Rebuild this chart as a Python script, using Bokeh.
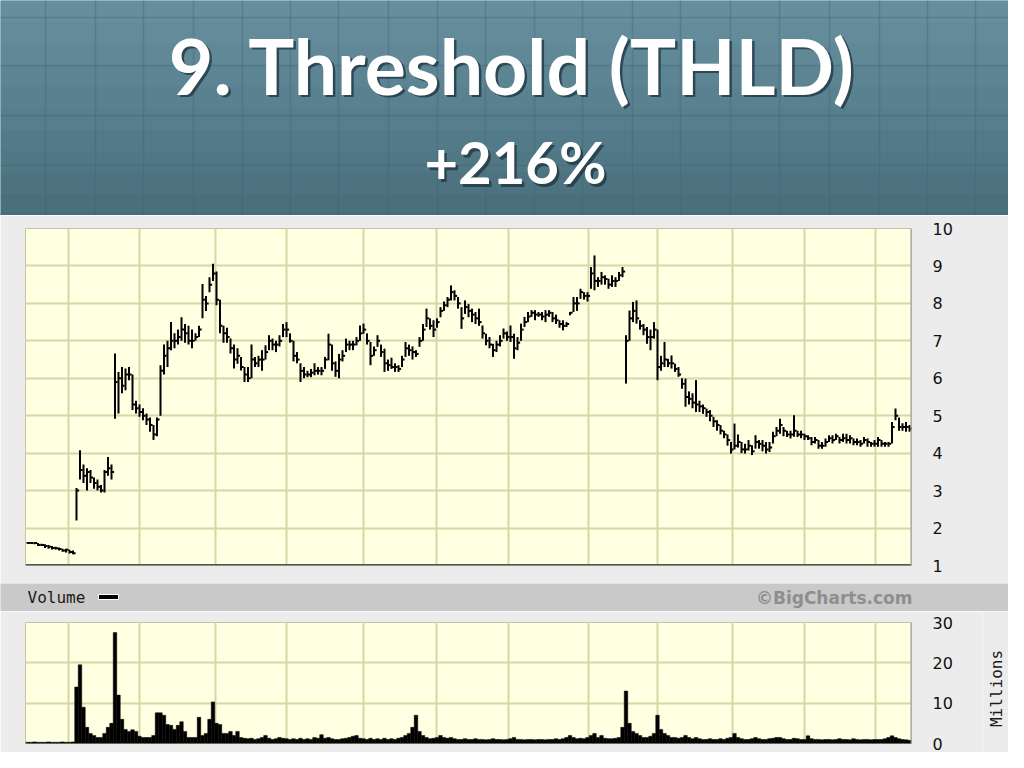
from math import pi
from bokeh.plotting import figure
from bokeh.layouts import column, row
from bokeh.models import Range1d, FixedTicker, Label, Span, ColumnDataSource
from bokeh.embed import file_html
from bokeh.resources import INLINE

# ---------------- data (one trading day per entry) ----------------
high = [
    1.63, 1.63, 1.62, 1.60, 1.58, 1.57, 1.55, 1.52, 1.50, 1.48,
    1.45, 1.45, 1.42, 1.40, 3.07, 4.08, 3.70, 3.60, 3.55, 3.35,
    3.30, 3.15, 3.55, 3.90, 3.70, 6.66, 6.17, 6.30, 6.26, 6.30,
    6.10, 5.40, 5.30, 5.20, 5.06, 4.95, 4.75, 4.95, 6.35, 6.90,
    7.00, 7.50, 7.20, 7.30, 7.63, 7.45, 7.40, 7.30, 7.20, 7.40,
    8.52, 8.20, 8.70, 9.06, 8.85, 8.10, 7.40, 7.35, 7.06, 6.90,
    6.80, 6.57, 6.30, 6.30, 6.90, 6.57, 6.60, 6.75, 6.88, 7.15,
    7.06, 7.00, 7.15, 7.45, 7.50, 7.20, 7.00, 6.70, 6.40, 6.30,
    6.20, 6.25, 6.40, 6.30, 6.30, 6.57, 7.19, 6.90, 6.45, 6.65,
    6.75, 7.06, 7.00, 7.00, 7.10, 7.41, 7.46, 7.20, 6.97, 6.85,
    7.15, 6.90, 6.79, 6.50, 6.55, 6.40, 6.35, 6.60, 6.97, 6.90,
    6.85, 6.75, 7.10, 7.45, 7.86, 7.60, 7.55, 7.60, 7.90, 8.05,
    8.17, 8.48, 8.35, 8.17, 7.90, 8.08, 7.98, 7.86, 7.77, 7.86,
    7.41, 7.19, 7.10, 6.92, 7.00, 7.15, 7.33, 7.25, 7.41, 7.19,
    7.10, 7.46, 7.64, 7.77, 7.82, 7.82, 7.77, 7.77, 7.82, 7.82,
    7.77, 7.70, 7.55, 7.55, 7.50, 7.77, 8.17, 8.17, 8.39, 8.30,
    8.30, 8.97, 9.28, 8.70, 8.84, 8.75, 8.66, 8.75, 8.70, 8.84,
    8.97, 7.15, 7.81, 8.04, 8.08, 7.55, 7.45, 7.37, 7.30, 7.50,
    7.30, 6.60, 6.97, 6.52, 6.61, 6.39, 6.30, 6.00, 5.99, 5.65,
    5.60, 5.95, 5.40, 5.30, 5.19, 5.15, 4.97, 4.88, 4.75, 4.60,
    4.50, 4.30, 4.79, 4.50, 4.30, 4.25, 4.35, 4.21, 4.48, 4.35,
    4.35, 4.30, 4.30, 4.57, 4.70, 4.92, 4.70, 4.60, 4.60, 5.01,
    4.60, 4.60, 4.52, 4.48, 4.43, 4.43, 4.35, 4.30, 4.39, 4.48,
    4.48, 4.52, 4.43, 4.52, 4.52, 4.48, 4.39, 4.39, 4.35, 4.43,
    4.39, 4.30, 4.35, 4.43, 4.35, 4.30, 4.30, 4.83, 5.19, 4.95,
    4.80, 4.83, 4.75,
]
low = [
    1.58, 1.58, 1.57, 1.52, 1.52, 1.47, 1.45, 1.43, 1.43, 1.40,
    1.37, 1.35, 1.32, 1.30, 2.20, 3.30, 3.20, 3.00, 3.20, 3.05,
    3.00, 2.95, 2.95, 3.40, 3.30, 4.92, 5.06, 5.60, 5.68, 5.95,
    5.15, 5.06, 4.97, 4.88, 4.75, 4.57, 4.35, 4.45, 5.00, 6.10,
    6.30, 6.75, 6.80, 6.90, 7.00, 6.95, 6.90, 6.80, 7.00, 7.10,
    7.60, 7.80, 8.30, 8.60, 7.95, 7.20, 6.95, 6.95, 6.66, 6.26,
    6.39, 6.21, 5.90, 5.90, 6.00, 6.30, 6.30, 6.20, 6.50, 6.75,
    6.75, 6.70, 6.85, 7.10, 7.10, 6.95, 6.45, 6.40, 5.90, 6.00,
    6.03, 6.03, 6.08, 6.10, 6.08, 6.25, 6.48, 6.20, 6.04, 6.00,
    6.45, 6.70, 6.75, 6.75, 6.88, 7.00, 7.19, 6.90, 6.35, 6.60,
    6.84, 6.57, 6.17, 6.20, 6.25, 6.17, 6.17, 6.30, 6.57, 6.60,
    6.50, 6.57, 6.84, 7.00, 7.37, 7.30, 7.10, 7.35, 7.63, 7.80,
    7.90, 8.08, 8.08, 7.86, 7.32, 7.72, 7.63, 7.50, 7.45, 7.40,
    7.06, 6.88, 6.80, 6.57, 6.70, 6.85, 7.06, 7.00, 6.97, 6.52,
    6.75, 7.00, 7.37, 7.50, 7.64, 7.55, 7.64, 7.55, 7.50, 7.64,
    7.50, 7.45, 7.35, 7.28, 7.37, 7.68, 7.77, 7.80, 8.12, 8.10,
    8.05, 8.39, 8.35, 8.44, 8.50, 8.50, 8.39, 8.44, 8.44, 8.60,
    8.70, 5.86, 7.00, 7.50, 7.46, 7.30, 7.15, 6.92, 6.75, 7.06,
    5.95, 6.20, 6.30, 6.30, 6.26, 6.17, 6.04, 5.72, 5.24, 5.30,
    5.20, 5.10, 5.10, 5.05, 4.97, 4.85, 4.70, 4.60, 4.50, 4.40,
    4.20, 3.99, 4.10, 4.15, 4.00, 3.99, 4.07, 3.95, 4.12, 4.12,
    4.05, 3.99, 4.03, 4.26, 4.45, 4.52, 4.45, 4.43, 4.39, 4.44,
    4.43, 4.40, 4.35, 4.35, 4.21, 4.26, 4.12, 4.12, 4.17, 4.30,
    4.26, 4.35, 4.26, 4.30, 4.26, 4.26, 4.21, 4.21, 4.17, 4.26,
    4.17, 4.17, 4.17, 4.17, 4.17, 4.17, 4.17, 4.26, 4.88, 4.60,
    4.60, 4.57, 4.57,
]
close = [
    1.60, 1.60, 1.60, 1.55, 1.55, 1.52, 1.50, 1.47, 1.46, 1.44,
    1.40, 1.42, 1.36, 1.33, 3.00, 3.55, 3.40, 3.50, 3.35, 3.20,
    3.10, 3.00, 3.50, 3.60, 3.50, 5.90, 6.00, 5.80, 6.10, 6.10,
    5.30, 5.20, 5.10, 5.00, 4.90, 4.75, 4.50, 4.90, 6.20, 6.60,
    6.80, 7.00, 7.00, 7.10, 7.30, 7.20, 7.00, 7.00, 7.10, 7.30,
    8.10, 8.00, 8.50, 8.80, 8.10, 7.40, 7.20, 7.10, 6.80, 6.50,
    6.60, 6.30, 6.10, 6.00, 6.50, 6.40, 6.50, 6.50, 6.70, 7.00,
    6.90, 6.90, 7.00, 7.30, 7.30, 7.00, 6.60, 6.50, 6.20, 6.10,
    6.10, 6.15, 6.20, 6.20, 6.20, 6.50, 6.90, 6.40, 6.20, 6.50,
    6.60, 6.90, 6.90, 6.90, 7.00, 7.20, 7.30, 7.00, 6.60, 6.75,
    7.00, 6.70, 6.40, 6.35, 6.30, 6.30, 6.25, 6.50, 6.80, 6.75,
    6.70, 6.65, 7.00, 7.30, 7.60, 7.40, 7.30, 7.50, 7.80, 7.95,
    8.10, 8.30, 8.20, 8.00, 7.60, 7.90, 7.80, 7.70, 7.60, 7.50,
    7.20, 7.00, 6.90, 6.75, 6.90, 7.00, 7.20, 7.10, 7.10, 6.80,
    6.95, 7.30, 7.50, 7.65, 7.75, 7.70, 7.70, 7.65, 7.70, 7.75,
    7.60, 7.55, 7.45, 7.40, 7.45, 7.75, 8.00, 8.00, 8.30, 8.20,
    8.20, 8.80, 8.60, 8.60, 8.70, 8.65, 8.50, 8.60, 8.60, 8.75,
    8.85, 7.00, 7.60, 7.80, 7.60, 7.40, 7.30, 7.10, 7.10, 7.30,
    6.30, 6.40, 6.50, 6.40, 6.40, 6.25, 6.10, 5.85, 5.50, 5.45,
    5.35, 5.30, 5.25, 5.20, 5.10, 5.00, 4.85, 4.75, 4.60, 4.50,
    4.35, 4.10, 4.20, 4.30, 4.10, 4.10, 4.20, 4.05, 4.30, 4.25,
    4.20, 4.10, 4.15, 4.45, 4.60, 4.75, 4.60, 4.50, 4.50, 4.60,
    4.50, 4.50, 4.45, 4.40, 4.30, 4.35, 4.20, 4.20, 4.30, 4.40,
    4.35, 4.45, 4.35, 4.40, 4.35, 4.40, 4.30, 4.30, 4.25, 4.35,
    4.30, 4.25, 4.25, 4.35, 4.25, 4.25, 4.25, 4.70, 5.00, 4.70,
    4.70, 4.70, 4.65,
]
volume_millions = [
    0.3, 0.3, 0.4, 0.3, 0.3, 0.3, 0.4, 0.3, 0.3, 0.3,
    0.4, 0.3, 0.3, 0.4, 14.0, 19.5, 9.0, 4.0, 2.5, 2.0,
    1.5, 1.5, 2.5, 4.0, 5.0, 27.5, 12.0, 6.0, 3.5, 3.0,
    3.4, 3.0, 1.8, 1.5, 1.5, 1.5, 2.0, 7.6, 7.6, 7.0,
    4.7, 4.5, 3.5, 4.5, 5.4, 3.0, 1.5, 1.5, 1.5, 6.5,
    2.0, 2.5, 6.0, 10.3, 5.0, 4.7, 2.5, 2.5, 3.0, 2.0,
    3.0, 1.5, 1.3, 1.2, 1.3, 1.0, 1.2, 1.5, 2.0, 1.3,
    1.0, 1.2, 1.5, 1.3, 1.2, 1.0, 1.2, 1.0, 1.3, 1.0,
    1.2, 1.0, 1.5, 1.3, 2.2, 1.3, 1.5, 1.2, 1.0, 1.0,
    1.2, 1.3, 1.5, 1.8, 2.0, 1.3, 1.2, 1.0, 1.3, 1.0,
    1.2, 1.0, 1.3, 1.0, 1.2, 1.0, 1.3, 1.5, 2.0, 2.5,
    4.0, 7.0, 3.0, 2.0, 1.5, 1.2, 1.3, 1.5, 2.0, 1.5,
    1.3, 1.5, 1.2, 1.0, 1.0, 1.2, 1.0, 1.0, 1.2, 1.0,
    1.0, 0.9, 1.0, 1.2, 1.0, 1.0, 0.9, 1.0, 1.2, 1.5,
    1.0, 1.0, 0.9, 1.0, 1.0, 0.9, 1.0, 1.0, 0.9, 1.0,
    1.0, 1.2, 1.0, 1.2, 1.5, 2.0, 1.5, 1.2, 1.3, 1.2,
    1.5, 2.0, 2.5, 1.5, 2.0, 1.3, 1.2, 1.2, 1.3, 1.5,
    4.0, 13.0, 5.0, 3.0, 2.5, 2.0, 1.5, 1.5, 1.8, 2.5,
    7.0, 3.5, 2.5, 2.0, 1.5, 1.5, 1.3, 1.5, 2.0, 1.5,
    1.2, 1.5, 1.2, 1.0, 1.0, 1.2, 1.0, 1.0, 1.2, 1.0,
    1.3, 1.5, 2.5, 1.5, 1.2, 1.0, 1.0, 1.2, 1.5, 1.2,
    1.0, 1.0, 1.2, 1.3, 1.5, 1.5, 1.2, 1.0, 1.0, 1.3,
    1.2, 1.0, 1.0, 1.9, 1.2, 1.0, 1.0, 0.9, 1.0, 1.0,
    0.9, 1.0, 1.2, 1.0, 1.0, 0.9, 1.2, 1.0, 0.9, 1.0,
    1.0, 0.9, 1.0, 1.0, 1.0, 1.2, 1.5, 1.9, 1.5, 1.2,
    1.0, 0.9, 0.8,
]
# first trading day of each month (day index, as a half-day boundary)
month_starts = [11.7, 31.9, 53.6, 73.9, 96.0, 116.9, 137.4, 160.3, 180.0, 201.3, 222.0, 242.3]
price_ticks = [1, 2, 3, 4, 5, 6, 7, 8, 9, 10]
volume_ticks = [0, 10, 20, 30]
title_line1 = "9. Threshold (THLD)"
title_line2 = "+216%"
volume_label = "Volume"
credit_label = "\u00a9BigCharts.com"
volume_unit = "Millions"

# ---------------- layout constants ----------------
W = 1008
n = len(close)
days = list(range(n))
X0, X1 = -0.57, n - 1 + 0.57

src = ColumnDataSource(dict(
    day=days, high=high, low=low, close=close,
    tick_end=[d + 0.75 for d in days],
    vol=volume_millions[:n],
))

PLOT_BG = "#FFFFE2"
PANEL = "#ECECEC"
GRID = "#D6D6A6"
FL, FR = 25, 97   # frame borders left / right

# ---------------- title slide header ----------------
TH = 215
ft = figure(width=W, height=TH, x_range=Range1d(0, W), y_range=Range1d(0, TH),
            title=None, x_axis_location=None, y_axis_location=None, toolbar_location=None,
            output_backend="svg", min_border=0, outline_line_color=None,
            background_fill_color="#57808F", border_fill_color="#57808F")
ft.frame_align = False
bands = ["#668E9D", "#638B9A", "#608897", "#5C8493", "#59818F", "#567E8C",
         "#537A88", "#507784", "#4D7381", "#4A707D"]
step = TH / len(bands)
ft.quad(left=[0] * len(bands), right=[W] * len(bands),
        top=[TH - i * step for i in range(len(bands))],
        bottom=[TH - (i + 1) * step - 0.5 for i in range(len(bands))],
        fill_color=bands, line_color=None)
ft.xgrid.ticker = FixedTicker(ticks=[45, 95, 143, 193, 242, 290, 338, 388, 437, 485,
                                     534, 582, 632, 680, 730, 779, 829, 879, 927, 975])
ft.ygrid.ticker = FixedTicker(ticks=[2, 50, 100, 150, 198])
ft.grid.grid_line_color = "#3F6575"
ft.grid.grid_line_alpha = 0.35
ft.grid.grid_line_width = 1.5
ft.grid.level = "guide"

for txt, x, y, size in [(title_line1, 512, 151, "77px"), (title_line2, 515, 54, "58px")]:
    ft.add_layout(Label(x=x + 2.5, y=y - 2.5, text=txt, text_align="center",
                        text_baseline="middle", text_font="Lato", text_font_style="bold",
                        text_font_size=size, text_color="#1E3440", text_alpha=0.75))
    ft.add_layout(Label(x=x, y=y, text=txt, text_align="center",
                        text_baseline="middle", text_font="Lato", text_font_style="bold",
                        text_font_size=size, text_color="#FFFFFF"))

# ---------------- price chart ----------------
fp = figure(width=W, height=368, x_range=Range1d(X0, X1), y_range=Range1d(1, 10),
            title=None, x_axis_location=None, y_axis_location="right", toolbar_location=None,
            output_backend="svg", min_border_left=FL, min_border_right=FR,
            min_border_top=13, min_border_bottom=18,
            background_fill_color=PLOT_BG, border_fill_color=PANEL,
            outline_line_color="#C4C4A4", outline_line_width=1)
fp.frame_align = False
fp.yaxis.ticker = FixedTicker(ticks=price_ticks)
fp.xgrid.ticker = FixedTicker(ticks=month_starts)
fp.grid.grid_line_color = GRID
fp.grid.grid_line_width = 2

fp.segment(x0="day", y0="low", x1="day", y1="high", source=src,
           line_color="#000000", line_width=2)
fp.segment(x0="day", y0="close", x1="tick_end", y1="close", source=src,
           line_color="#000000", line_width=2)
fp.add_layout(Span(location=1, dimension="width", line_color="#555555", line_width=3))
fp.add_layout(Span(location=X1, dimension="height", line_color="#9A9A9A", line_width=2))

# ---------------- "Volume" band ----------------
BH = 28
fb = figure(width=W, height=BH, x_range=Range1d(0, W), y_range=Range1d(0, BH),
            title=None, x_axis_location=None, y_axis_location=None, toolbar_location=None,
            output_backend="svg", min_border=0, outline_line_color=None,
            background_fill_color="#C9C9C9", border_fill_color="#C9C9C9")
fb.frame_align = False
fb.grid.visible = False
fb.add_layout(Label(x=27, y=14, text=volume_label, text_align="left", text_baseline="middle",
                    text_font="DejaVu Sans Mono", text_font_size="16px", text_color="#1A1A1A"))
fb.quad(left=[98], right=[118], bottom=[12], top=[17], fill_color="#000000",
        line_color="#FFFFFF", line_width=1)
fb.add_layout(Label(x=912, y=14, text=credit_label, text_align="right", text_baseline="middle",
                    text_font="DejaVu Sans", text_font_style="bold", text_font_size="17px",
                    text_color="#8E8E8E"))

# ---------------- volume chart ----------------
VH = 141
MW = 26                      # strip for the rotated "Millions" unit label
fv = figure(width=W - MW, height=VH, x_range=fp.x_range, y_range=Range1d(0, 30),
            title=None, x_axis_location=None, y_axis_location="right", toolbar_location=None,
            output_backend="svg", min_border_left=FL, min_border_right=FR - MW,
            min_border_top=11, min_border_bottom=9,
            background_fill_color=PLOT_BG, border_fill_color=PANEL,
            outline_line_color="#C4C4A4", outline_line_width=1)
fv.frame_align = False
fv.yaxis.ticker = FixedTicker(ticks=volume_ticks)
fv.xgrid.ticker = FixedTicker(ticks=month_starts)
fv.grid.grid_line_color = GRID
fv.grid.grid_line_width = 2
fv.vbar(x="day", top="vol", bottom=0, width=1.0, source=src,
        fill_color="#000000", line_color="#000000", line_width=0.5)
fv.add_layout(Span(location=X1, dimension="height", line_color="#9A9A9A", line_width=2))

fm = figure(width=MW, height=VH, x_range=Range1d(0, MW), y_range=Range1d(0, VH),
            title=None, x_axis_location=None, y_axis_location=None, toolbar_location=None,
            output_backend="svg", min_border=0, outline_line_color=None,
            background_fill_color=PANEL, border_fill_color=PANEL)
fm.frame_align = False
fm.grid.visible = False
fm.add_layout(Label(x=14, y=64, text=volume_unit, angle=pi / 2, text_align="center",
                    text_baseline="middle", text_font="DejaVu Sans Mono",
                    text_font_size="16px", text_color="#1A1A1A"))

for f in (fp, fv):
    ax = f.yaxis[0]
    ax.axis_line_color = None
    ax.major_tick_line_color = None
    ax.minor_tick_line_color = None
    ax.major_label_standoff = 15
    ax.major_label_text_font = "DejaVu Sans"
    ax.major_label_text_font_size = "16px"
    ax.major_label_text_color = "#111111"

layout = column(ft, fp, fb, row(fv, fm, spacing=0), spacing=0)
open("out.html", "w").write(file_html(layout, INLINE))
